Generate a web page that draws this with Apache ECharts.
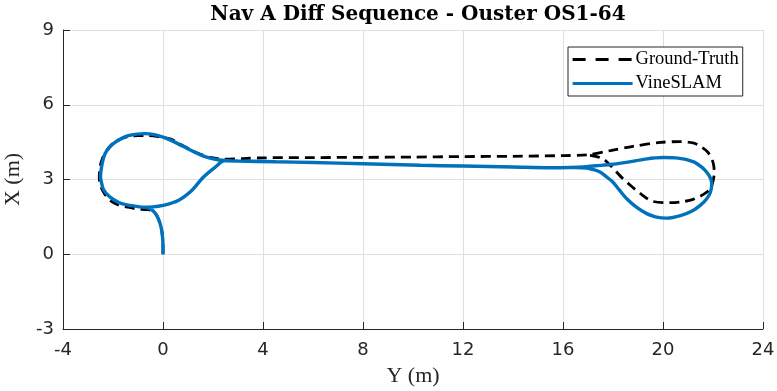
<!DOCTYPE html>
<html>
<head>
<meta charset="utf-8">
<script src="https://cdn.jsdelivr.net/npm/echarts@6/dist/echarts.min.js"></script>
<style>
html,body{margin:0;padding:0;background:#fff;}
#c{width:777px;height:391px;}
</style>
</head>
<body>
<div id="c"></div>
<script>
// Axis ranges / ticks
var xTicks = [-4, 0, 4, 8, 12, 16, 20, 24];
var yTicks = [-3, 0, 3, 6, 9];

// Ground-Truth trajectory: [Y (m), X (m)]
var groundTruth = [
  [0,0],[0,0.36],[-0.04,0.88],[-0.12,1.24],[-0.25,1.55],[-0.4,1.72],[-0.59,1.79],
  [-0.85,1.8],[-1.12,1.83],[-1.45,1.9],[-1.79,1.98],[-2.1,2.15],[-2.35,2.45],[-2.5,2.75],
  [-2.55,3.1],[-2.52,3.5],[-2.4,3.9],[-2.15,4.3],[-1.85,4.55],[-1.45,4.71],[-1.0,4.76],
  [-0.65,4.76],[-0.2,4.72],[0.28,4.63],[0.68,4.43],[1.0,4.25],[1.4,4.05],[1.85,3.9],
  [2.4,3.82],[3.2,3.84],[4,3.87],[6,3.88],[8,3.89],[10,3.9],[12,3.92],[14,3.93],[16,3.96],
  [16.95,3.99],[17.9,4.16],[18.8,4.33],[19.9,4.49],[20.7,4.52],[21.2,4.47],[21.5,4.33],
  [21.8,4.09],[22.0,3.69],[22.05,3.29],[21.95,2.76],[21.75,2.49],[21.2,2.2],[20.7,2.1],
  [20.3,2.07],[19.6,2.12],[19.1,2.43],[18.75,2.72],[18.4,3.03],[17.9,3.56],[17.6,3.83],
  [17.2,3.95],[16.95,3.98]
];

// VineSLAM trajectory: [Y (m), X (m)]
var vineSlam = [
  [0,0],[0.0,0.36],[-0.04,0.88],[-0.12,1.24],[-0.25,1.56],[-0.42,1.76],[-0.65,1.87],
  [-0.85,1.89],[-1.25,1.95],[-1.65,2.03],[-1.95,2.18],[-2.19,2.36],[-2.38,2.6],[-2.45,2.83],
  [-2.5,3.1],[-2.48,3.36],[-2.42,3.7],[-2.32,4.03],[-2.15,4.28],[-1.92,4.49],[-1.65,4.65],
  [-1.39,4.76],[-1.05,4.82],[-0.72,4.84],[-0.35,4.8],[0.0,4.7],[0.3,4.58],[0.61,4.43],
  [0.95,4.25],[1.28,4.09],[1.65,3.93],[2.05,3.82],[2.48,3.76],[3.0,3.74],[3.6,3.73],
  [4.5,3.71],[6,3.68],[8,3.63],[10.3,3.57],[12,3.54],[14,3.5],[15.5,3.47],[16.3,3.48],
  [16.8,3.5],[17.3,3.55],[17.9,3.6],[18.6,3.7],[19.3,3.82],[20,3.88],[20.6,3.86],
  [21.2,3.72],[21.55,3.5],[21.75,3.29],[21.9,3.05],[21.95,2.83],[21.9,2.5],[21.75,2.23],
  [21.5,1.97],[21.2,1.76],[20.7,1.55],[20.15,1.45],[19.7,1.5],[19.35,1.63],[18.95,1.88],
  [18.55,2.23],[18.25,2.58],[18.0,2.89],[17.75,3.1],[17.5,3.29],[17.2,3.4],[16.95,3.46],
  [16.5,3.48],[15.5,3.47],[14,3.5],[12,3.54],[10.3,3.57],[8,3.63],[6,3.68],[4.5,3.71],
  [3.0,3.74],[2.48,3.76],[2.08,3.49],[1.61,3.09],[1.15,2.56],[0.61,2.16],[0.0,1.96],
  [-0.4,1.9],[-0.85,1.89]
];

var seriesNames = ['Ground-Truth', 'VineSLAM'];

var chart = echarts.init(document.getElementById('c'), null, {renderer: 'canvas'});
var axisColor = '#262626';
var gridColor = '#dfdfdf';
var option = {
  backgroundColor: '#ffffff',
  animation: false,
  title: {
    text: 'Nav A Diff Sequence - Ouster OS1-64',
    left: 413, top: 0, textAlign: 'center',
    textStyle: {fontFamily: 'DejaVu Serif', fontWeight: 'bold', fontSize: 20, color: '#000'}
  },
  legend: {
    data: [
      {name: seriesNames[0], itemStyle: {opacity: 0}, lineStyle: {width: 3, type: [13, 10], color: '#000'}},
      {name: seriesNames[1], itemStyle: {opacity: 0}, lineStyle: {width: 3.2, color: '#0072BD'}}
    ],
    orient: 'vertical',
    left: 568, top: 47,
    padding: [3, 4, 3, 3],
    itemGap: 5,
    itemWidth: 60, itemHeight: 16,
    backgroundColor: '#fff',
    borderColor: axisColor, borderWidth: 1, borderRadius: 0,
    textStyle: {fontFamily: 'Liberation Serif', fontSize: 18.5, color: '#000', padding: [0,0,0,-2]}
  },
  grid: {left: 63, right: 14, top: 30, bottom: 62, containLabel: false, outerBoundsMode: 'none'},
  xAxis: {
    type: 'value', min: -4, max: 24, interval: 4,
    name: 'Y (m)', nameLocation: 'middle', nameGap: 36,
    nameTextStyle: {fontFamily: 'Liberation Serif', fontSize: 22, color: '#262626'},
    axisLine: {show: true, onZero: false, lineStyle: {color: axisColor, width: 1}},
    axisTick: {show: true, inside: true, length: 7, lineStyle: {color: axisColor}},
    axisLabel: {fontFamily: 'DejaVu Sans', fontSize: 18, color: '#262626', margin: 12},
    splitLine: {show: true, showMinLine: true, showMaxLine: true, lineStyle: {color: gridColor, width: 1}}
  },
  yAxis: {
    type: 'value', min: -3, max: 9, interval: 3,
    name: 'X (m)', nameLocation: 'middle', nameGap: 39, nameRotate: 90,
    nameTextStyle: {fontFamily: 'Liberation Serif', fontSize: 22, color: '#262626'},
    axisLine: {show: true, onZero: false, lineStyle: {color: axisColor, width: 1}},
    axisTick: {show: true, inside: true, length: 7, lineStyle: {color: axisColor}},
    axisLabel: {fontFamily: 'DejaVu Sans', fontSize: 18, color: '#262626', margin: 9},
    splitLine: {show: true, showMinLine: true, showMaxLine: true, lineStyle: {color: gridColor, width: 1}}
  },
  series: [
    {
      name: seriesNames[0], type: 'line', data: groundTruth,
      showSymbol: false, symbol: 'none', smooth: 0.3, z: 2,
      itemStyle: {color: '#000'},
      lineStyle: {color: '#000', width: 2.8, type: [10, 6]}
    },
    {
      name: seriesNames[1], type: 'line', data: vineSlam,
      showSymbol: false, symbol: 'none', smooth: 0.3, z: 3,
      itemStyle: {color: '#0072BD'},
      lineStyle: {color: '#0072BD', width: 3.4}
    }
  ]
};
chart.setOption(option);
</script>
</body>
</html>
